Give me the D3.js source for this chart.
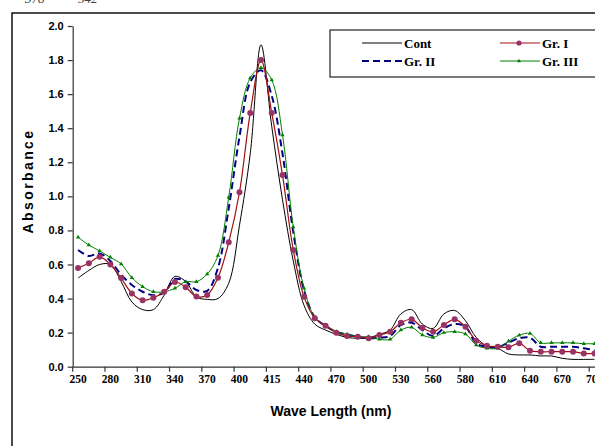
<!DOCTYPE html>
<html>
<head>
<meta charset="utf-8">
<script src="https://cdn.jsdelivr.net/npm/d3@7"></script>
<style>
  html, body { margin: 0; padding: 0; background: #fff; }
  svg { display: block; }
</style>
</head>
<body>
<svg id="chart" width="595" height="446"></svg>
<script>
// ---- data ----
const categories = [250,260,270,280,290,300,310,320,330,340,350,360,370,380,390,400,405,410,415,420,430,440,450,460,470,480,490,500,510,520,530,540,550,560,565,575,580,590,600,610,620,630,640,650,660,670,680,690,700];
const tickLabels = ["250","280","310","340","370","400","415","440","470","500","530","560","580","610","640","670","700"];
const seriesNames = ["Cont", "Gr. I", "Gr. II", "Gr. III"];
const cont = [0.52,0.565,0.60,0.60,0.50,0.38,0.335,0.335,0.42,0.53,0.50,0.41,0.395,0.40,0.49,0.83,1.25,1.89,1.41,0.98,0.62,
  0.36,0.25,0.215,0.19,0.172,0.167,0.17,0.19,0.215,0.31,0.335,0.25,0.225,0.31,0.33,0.27,0.172,0.121,0.108,0.075,0.069,0.069,0.063,0.063,0.049,0.043,0.043,0.043];
const grI = [0.58,0.607,0.645,0.60,0.52,0.43,0.39,0.405,0.44,0.497,0.466,0.412,0.421,0.522,0.73,1.024,1.49,1.80,1.49,1.125,0.685,
  0.41,0.285,0.24,0.20,0.18,0.176,0.167,0.186,0.205,0.258,0.278,0.229,0.205,0.245,0.278,0.235,0.153,0.123,0.117,0.114,0.137,0.094,0.088,0.088,0.088,0.088,0.078,0.078];
const grII = [0.685,0.65,0.665,0.62,0.54,0.48,0.44,0.42,0.434,0.515,0.50,0.45,0.445,0.58,0.93,1.35,1.67,1.74,1.59,1.25,0.79,
  0.45,0.29,0.24,0.205,0.19,0.176,0.167,0.17,0.18,0.245,0.258,0.215,0.18,0.225,0.25,0.235,0.137,0.117,0.114,0.141,0.167,0.17,0.117,0.117,0.117,0.117,0.108,0.098];
const grIII = [0.76,0.714,0.68,0.642,0.603,0.522,0.47,0.44,0.44,0.46,0.499,0.499,0.544,0.652,0.995,1.458,1.695,1.755,1.683,1.36,0.82,
  0.46,0.29,0.24,0.205,0.19,0.176,0.176,0.161,0.161,0.215,0.231,0.186,0.172,0.20,0.205,0.192,0.127,0.108,0.108,0.15,0.185,0.195,0.14,0.14,0.14,0.14,0.135,0.135];
const yTicks = [0,0.2,0.4,0.6,0.8,1.0,1.2,1.4,1.6,1.8,2.0];

// ---- layout ----
const svg = d3.select("#chart");
const left = 72.7, bottomY = 366.7, topY = 26;
const catW = 10.76;
const x = d3.scaleBand().domain(categories).range([left, left + catW * categories.length]).paddingInner(0).paddingOuter(0);
const bw = x.bandwidth();
const y = d3.scaleLinear().domain([0, 2]).range([bottomY, topY]);
const cx = c => x(c) + bw / 2;

// top cut-off caption
svg.append("text").attr("x", 25).attr("y", 3).attr("font-family", "Liberation Serif, Times New Roman, serif")
  .attr("font-style", "italic").attr("font-size", 13).attr("fill", "#444").text("378");
svg.append("text").attr("x", 78).attr("y", 3).attr("font-family", "Liberation Serif, Times New Roman, serif")
  .attr("font-style", "italic").attr("font-size", 13).attr("fill", "#444").text("542");

// outer frame
svg.append("rect").attr("x", 12).attr("y", 13).attr("width", 700).attr("height", 500)
  .attr("fill", "none").attr("stroke", "#000").attr("stroke-width", 1.4);

// y axis
const yAxis = svg.append("g").attr("transform", `translate(${left},0)`)
  .call(d3.axisLeft(y).tickValues(yTicks).tickSize(5).tickSizeOuter(0).tickFormat(d3.format(".1f")));
yAxis.select(".domain").attr("stroke", "#333").attr("stroke-width", 1.2);
yAxis.selectAll(".tick line").attr("stroke", "#333").attr("stroke-width", 1.2);
yAxis.selectAll(".tick text").attr("font-family", "Liberation Sans, Arial, sans-serif")
  .attr("font-weight", "bold").attr("font-size", 11).attr("fill", "#000").attr("x", -9);

// x axis
const xTickCats = categories.filter((c, i) => i % 3 === 0);
const xAxis = svg.append("g").attr("transform", `translate(0,${bottomY})`)
  .call(d3.axisBottom(x).tickValues(xTickCats).tickSize(5).tickSizeOuter(0)
    .tickFormat((d, i) => tickLabels[i]));
xAxis.select(".domain").attr("stroke", "#333").attr("stroke-width", 1.2);
xAxis.selectAll(".tick line").attr("stroke", "#333").attr("stroke-width", 1.2)
  .attr("transform", `translate(${-bw / 2},0)`);
xAxis.selectAll(".tick text").attr("font-family", "Liberation Serif, Times New Roman, serif")
  .attr("font-weight", "bold").attr("font-size", 11.5).attr("fill", "#000").attr("y", 8);

// axis titles
svg.append("text").attr("x", 331).attr("y", 416).attr("text-anchor", "middle")
  .attr("font-family", "Liberation Sans, Arial, sans-serif").attr("font-weight", "bold")
  .attr("font-size", 14).text("Wave Length (nm)");
svg.append("text").attr("transform", "translate(33,181) rotate(-90)").attr("text-anchor", "middle")
  .attr("font-family", "Liberation Sans, Arial, sans-serif").attr("font-weight", "bold")
  .attr("font-size", 14).attr("letter-spacing", 2.4).text("Absorbance");

// series
const line = d3.line().x((d, i) => cx(categories[i])).y(d => y(d)).curve(d3.curveCatmullRom.alpha(0.5));
const series = [
  { name: seriesNames[0], vals: cont, color: "#000", width: 1, dash: null, marker: null },
  { name: seriesNames[1], vals: grI, color: "#a01010", width: 1.2, dash: null, marker: "circle", mcolor: "#993366" },
  { name: seriesNames[2], vals: grII, color: "#000080", width: 2, dash: "7,4", marker: null },
  { name: seriesNames[3], vals: grIII, color: "#008000", width: 1, dash: null, marker: "triangle", mcolor: "#008000" }
];
const drawOrder = [0, 2, 3, 1];
drawOrder.forEach(k => {
  const s = series[k];
  svg.append("path").datum(s.vals).attr("d", line).attr("fill", "none")
    .attr("stroke", s.color).attr("stroke-width", s.width)
    .attr("stroke-dasharray", s.dash);
  if (s.marker === "circle") {
    svg.append("g").selectAll("circle").data(s.vals).join("circle")
      .attr("cx", (d, i) => cx(categories[i])).attr("cy", d => y(d)).attr("r", 3)
      .attr("fill", s.mcolor);
  } else if (s.marker === "triangle") {
    const tri = d3.symbol().type(d3.symbolTriangle).size(8);
    svg.append("g").selectAll("path").data(s.vals).join("path")
      .attr("transform", (d, i) => `translate(${cx(categories[i])},${y(d)})`)
      .attr("d", tri).attr("fill", s.mcolor);
  }
});

// legend
const lg = svg.append("g");
lg.append("rect").attr("x", 330).attr("y", 30).attr("width", 300).attr("height", 47)
  .attr("fill", "#fff").attr("stroke", "#222").attr("stroke-width", 1.2);
const legPos = [
  { lx: 362, ty: 43 }, { lx: 500, ty: 43 }, { lx: 362, ty: 61 }, { lx: 500, ty: 61 }
];
series.forEach((s, k) => {
  const p = legPos[k];
  lg.append("line").attr("x1", p.lx).attr("x2", p.lx + 40).attr("y1", p.ty).attr("y2", p.ty)
    .attr("stroke", s.color).attr("stroke-width", s.width).attr("stroke-dasharray", s.dash);
  if (s.marker === "circle") {
    lg.append("circle").attr("cx", p.lx + 19).attr("cy", p.ty).attr("r", 2.6).attr("fill", s.mcolor);
  } else if (s.marker === "triangle") {
    lg.append("path").attr("transform", `translate(${p.lx + 19},${p.ty})`)
      .attr("d", d3.symbol().type(d3.symbolTriangle).size(7)).attr("fill", s.mcolor);
  }
  lg.append("text").attr("x", p.lx + 42).attr("y", p.ty + 4.5)
    .attr("font-family", "Liberation Serif, Times New Roman, serif").attr("font-weight", "bold")
    .attr("font-size", 13).text(s.name);
});
</script>
</body>
</html>
